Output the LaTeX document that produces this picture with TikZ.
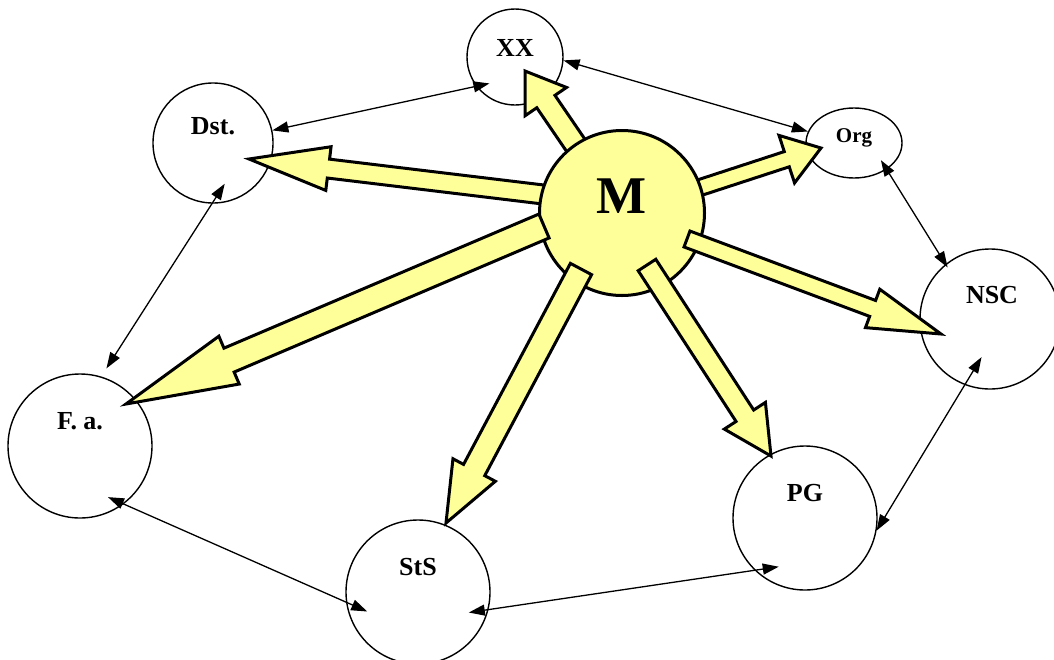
\documentclass[tikz,border=0pt]{standalone}
\usepackage{fontspec}
\setmainfont{Liberation Serif}
\usetikzlibrary{calc,shapes.geometric,arrows.meta}

\definecolor{hubyellow}{HTML}{FFFF99}

\tikzset{
  bubble/.style={draw, circle, line width=1.4pt, inner sep=0pt},
  labeltext/.style={font=\fontsize{26}{31}\selectfont\bfseries},
  fat/.style={draw, fill=hubyellow, line width=3pt, line join=miter},
  link/.style={line width=1.3pt, {Triangle[length=16pt,width=11pt]}-{Triangle[length=16pt,width=11pt]}},
}

% block arrow: tail, tip, shaft half width, head half width, head length
\newcommand{\fatarrow}[5]{%
  \coordinate (fs) at (#1);
  \coordinate (ft) at (#2);
  \coordinate (fb) at ($(ft)!#5!(fs)$);
  \draw[fat] ($(fs)!#3!90:(ft)$) -- ($(fb)!#3!-90:(fs)$) -- ($(fb)!#4!-90:(fs)$) -- (ft)
    -- ($(fb)!#4!90:(fs)$) -- ($(fb)!#3!90:(fs)$) -- ($(fs)!#3!-90:(ft)$) -- cycle;
}

\begin{document}
\begin{tikzpicture}[x=1pt,y=-1pt]
  \useasboundingbox (0,0) rectangle (1054,659);

  % outer nodes
  \node[bubble, minimum size=96pt, label={[labeltext, yshift=9pt]center:XX}] (xx) at (515,57) {};
  \node[bubble, minimum size=120pt, label={[labeltext, yshift=17pt]center:Dst.}] (dst) at (213,143) {};
  \node[draw, ellipse, line width=1.4pt, inner sep=0pt, minimum width=96pt, minimum height=70pt,
        label={[font=\fontsize{21}{25}\selectfont\bfseries, yshift=5pt]center:Org}] (org) at (854,143) {};
  \node[bubble, minimum size=140pt, label={[labeltext, yshift=24pt, xshift=2pt]center:NSC}] (nsc) at (990,319) {};
  \node[bubble, minimum size=144pt, label={[labeltext, yshift=24.5pt]center:PG}] (pg) at (805,518) {};
  \node[bubble, minimum size=144pt, label={[labeltext, yshift=25pt]center:StS}] (sts) at (418,592) {};
  \node[bubble, minimum size=144pt, label={[labeltext, yshift=24.5pt]center:F. a.}] (fa) at (80,446) {};

  % arrows behind the hub
  \coordinate (hub) at (622,213);
  \fatarrow{hub}{[shift={(10,14)}]xx.center}{11pt}{25pt}{37pt}
  \fatarrow{[shift={(0,-9)}]hub}{[shift={(36,16)}]dst.center}{9.5pt}{22pt}{80pt}
  \fatarrow{hub}{[shift={(-33,5)}]org.center}{8pt}{25pt}{36pt}

  % hub
  \node[circle, draw, line width=3pt, fill=hubyellow, inner sep=0pt, minimum size=165pt,
        label={[font=\fontsize{53}{62}\selectfont\bfseries, yshift=17pt]center:M}] (m) at (hub) {};

  % arrows over the hub
  \fatarrow{[shift={(-78,13)}]m.center}{[shift={(46,-42)}]fa.center}{13pt}{26pt}{112pt}
  \fatarrow{[shift={(-41,56)}]m.center}{[shift={(28,-69)}]sts.center}{12pt}{24pt}{60pt}
  \fatarrow{[shift={(25,52)}]m.center}{[shift={(-34,-62)}]pg.center}{10.5pt}{24.5pt}{48pt}
  \fatarrow{[shift={(65,26)}]m.center}{[shift={(-49,15)}]nsc.center}{8.5pt}{20.5pt}{73pt}

  % links between the outer nodes
  \draw[link, shorten >=-13.6pt] (dst.12) -- (xx.217);
  \draw[link] (xx.-4) -- (org.166);
  \draw[link, shorten <=-10.9pt, shorten >=-4pt] (org.-39.5) -- (nsc.129);
  \draw[link, shorten <=-32.6pt] (nsc.249.8) -- (pg.-10);
  \draw[link, shorten <=-24.5pt, shorten >=-19.9pt] (pg.226.9) -- (sts.-14.6);
  \draw[link, shorten <=-23.2pt, shorten >=-17.2pt] (sts.188.5) -- (fa.-53.6);
  \draw[link, shorten <=9.6pt, shorten >=-23.7pt] (fa.73.2) -- (dst.269.2);
\end{tikzpicture}
\end{document}
